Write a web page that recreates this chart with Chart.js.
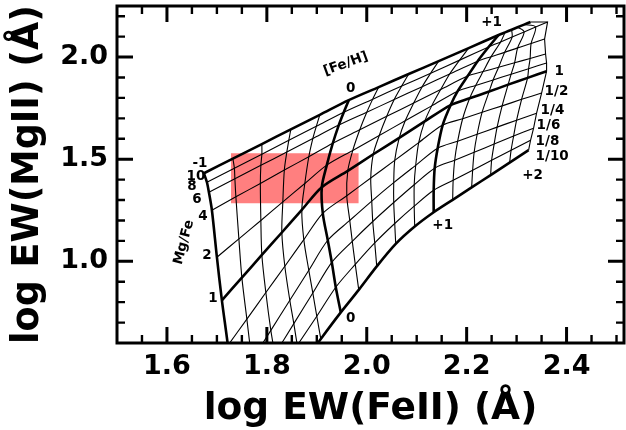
<!DOCTYPE html>
<html>
<head>
<meta charset="utf-8">
<script src="https://cdn.jsdelivr.net/npm/chart.js@4.4.0/dist/chart.umd.min.js"></script>
<style>
html, body { margin: 0; padding: 0; background: #fff; }
</style>
</head>
<body>
<canvas id="myChart" width="626" height="430"></canvas>
<script>
// [Fe/H] steps along every Mg/Fe track
var fehValues = [-1, -0.8, -0.6, -0.4, -0.2, 0, 0.2, 0.4, 0.6, 0.8, 1, 1.2, 1.4, 1.6, 1.8, 2];
var mgfeLabels = ['10', '8', '6', '4', '2', '1', '1/2', '1/4', '1/6', '1/8', '1/10'];

// log EW(FeII) (x) and log EW(MgII) (y) for each Mg/Fe track
var x_10 = [1.674, 1.732, 1.790, 1.848, 1.906, 1.964, 2.024, 2.084, 2.144, 2.204, 2.264, 2.277, 2.290, 2.302, 2.315, 2.328];
var y_10 = [1.431, 1.503, 1.574, 1.646, 1.717, 1.789, 1.853, 1.917, 1.980, 2.044, 2.108, 2.121, 2.134, 2.146, 2.159, 2.172];
var x_8 = [1.680, 1.735, 1.790, 1.844, 1.899, 1.954, 2.012, 2.070, 2.128, 2.186, 2.244, 2.268, 2.291, 2.315, 2.338, 2.362];
var y_8 = [1.387, 1.456, 1.524, 1.593, 1.661, 1.730, 1.794, 1.858, 1.921, 1.985, 2.049, 2.074, 2.098, 2.123, 2.147, 2.172];
var x_6 = [1.684, 1.736, 1.788, 1.840, 1.892, 1.944, 2.000, 2.055, 2.111, 2.166, 2.222, 2.249, 2.276, 2.302, 2.329, 2.356];
var y_6 = [1.338, 1.404, 1.470, 1.535, 1.601, 1.667, 1.730, 1.792, 1.855, 1.917, 1.980, 2.002, 2.023, 2.045, 2.066, 2.088];
var x_4 = [1.690, 1.738, 1.787, 1.835, 1.884, 1.932, 1.986, 2.040, 2.094, 2.148, 2.202, 2.233, 2.264, 2.296, 2.327, 2.358];
var y_4 = [1.250, 1.316, 1.381, 1.447, 1.512, 1.578, 1.644, 1.710, 1.775, 1.841, 1.907, 1.929, 1.950, 1.972, 1.993, 2.015];
var x_2 = [1.700, 1.744, 1.788, 1.832, 1.876, 1.920, 1.972, 2.025, 2.077, 2.130, 2.182, 2.218, 2.253, 2.289, 2.324, 2.360];
var y_2 = [1.020, 1.110, 1.200, 1.291, 1.381, 1.471, 1.543, 1.616, 1.688, 1.761, 1.833, 1.861, 1.888, 1.916, 1.943, 1.971];
var x_1 = [1.710, 1.750, 1.790, 1.830, 1.870, 1.910, 1.962, 2.013, 2.065, 2.116, 2.168, 2.206, 2.245, 2.283, 2.322, 2.360];
var y_1 = [0.809, 0.920, 1.031, 1.141, 1.252, 1.363, 1.443, 1.524, 1.604, 1.685, 1.765, 1.798, 1.831, 1.865, 1.898, 1.931];
var x_1_2 = [1.722, 1.760, 1.798, 1.836, 1.874, 1.912, 1.960, 2.008, 2.056, 2.104, 2.152, 2.192, 2.231, 2.271, 2.310, 2.350];
var y_1_2 = [0.588, 0.717, 0.847, 0.976, 1.106, 1.235, 1.321, 1.408, 1.494, 1.581, 1.667, 1.698, 1.730, 1.761, 1.793, 1.824];
var x_1_4 = [1.732, 1.770, 1.808, 1.846, 1.884, 1.922, 1.966, 2.010, 2.054, 2.098, 2.142, 2.182, 2.221, 2.261, 2.300, 2.340];
var y_1_4 = [0.368, 0.515, 0.662, 0.809, 0.956, 1.103, 1.200, 1.295, 1.385, 1.470, 1.554, 1.588, 1.622, 1.657, 1.691, 1.725];
var x_1_6 = [1.740, 1.778, 1.816, 1.854, 1.892, 1.930, 1.971, 2.012, 2.054, 2.095, 2.136, 2.176, 2.215, 2.255, 2.294, 2.334];
var y_1_6 = [0.245, 0.395, 0.545, 0.695, 0.845, 0.995, 1.098, 1.195, 1.288, 1.375, 1.456, 1.495, 1.534, 1.574, 1.613, 1.652];
var x_1_8 = [1.746, 1.784, 1.823, 1.861, 1.900, 1.938, 1.977, 2.016, 2.056, 2.095, 2.134, 2.173, 2.212, 2.250, 2.289, 2.328];
var y_1_8 = [0.162, 0.304, 0.446, 0.589, 0.731, 0.873, 0.985, 1.090, 1.185, 1.270, 1.348, 1.397, 1.446, 1.495, 1.544, 1.593];
var x_1_10 = [1.750, 1.790, 1.829, 1.869, 1.908, 1.948, 1.984, 2.020, 2.058, 2.096, 2.134, 2.172, 2.210, 2.248, 2.286, 2.324];
var y_1_10 = [0.098, 0.228, 0.359, 0.489, 0.620, 0.750, 0.860, 0.975, 1.085, 1.170, 1.240, 1.301, 1.362, 1.422, 1.483, 1.544];

// observed box
var boxX = [1.728, 1.984];
var boxY = [1.284, 1.529];

// axis ticks
var xMajor = [1.6, 1.8, 2.0, 2.2, 2.4];
var xMinor = [1.55, 1.65, 1.7, 1.75, 1.85, 1.9, 1.95, 2.05, 2.1, 2.15, 2.25, 2.3, 2.35, 2.45, 2.5];
var yMajor = [1.0, 1.5, 2.0];
var yMinor = [0.7, 0.8, 0.9, 1.1, 1.2, 1.3, 1.4, 1.6, 1.7, 1.8, 1.9, 2.1, 2.2];

var gridX = [x_10, x_8, x_6, x_4, x_2, x_1, x_1_2, x_1_4, x_1_6, x_1_8, x_1_10];
var gridY = [y_10, y_8, y_6, y_4, y_2, y_1, y_1_2, y_1_4, y_1_6, y_1_8, y_1_10];

var boldRows = [0, 5, 10];
var boldCols = [0, 5, 10];

var FONT = "'DejaVu Sans', 'Liberation Sans', sans-serif";

function lineSet(points, bold, tension) {
    return {
        data: points,
        showLine: true,
        borderColor: '#000',
        borderWidth: bold ? 2.6 : 1.1,
        pointRadius: 0,
        tension: tension,
        fill: false
    };
}

function buildDatasets() {
    var thin = [];
    var thick = [];
    for (let i = 0; i < gridX.length; i++) {
        let pts = gridX[i].map(function (x, j) { return {x: x, y: gridY[i][j]}; });
        let bold = boldRows.indexOf(i) >= 0;
        (bold ? thick : thin).push(lineSet(pts, bold, 0.3));
    }
    for (let j = 0; j < fehValues.length; j++) {
        let pts = gridX.map(function (row, i) { return {x: row[j], y: gridY[i][j]}; });
        let bold = boldCols.indexOf(j) >= 0;
        // the +2 edge folds back at the top, keep it straight
        (bold ? thick : thin).push(lineSet(pts, bold, j === fehValues.length - 1 ? 0 : 0.3));
    }
    var box = {
        data: [{x: boxX[0], y: boxY[1]}, {x: boxX[1], y: boxY[1]}],
        showLine: true,
        borderWidth: 0,
        borderColor: 'rgba(0,0,0,0)',
        backgroundColor: 'rgba(255, 0, 0, 0.5)',
        pointRadius: 0,
        tension: 0,
        fill: {value: boxY[0]}
    };
    return thin.concat(thick, [box]);
}

// labels on the grid, in data coordinates
var annotations = [
    {t: '[Fe/H]', x: 1.958, y: 1.966, rot: -20},
    {t: '0', x: 1.968, y: 1.848},
    {t: '+1', x: 2.250, y: 2.167},
    {t: '1', x: 2.376, y: 1.931, align: 'left'},
    {t: '1/2', x: 2.356, y: 1.833, align: 'left'},
    {t: '1/4', x: 2.348, y: 1.740, align: 'left'},
    {t: '1/6', x: 2.340, y: 1.667, align: 'left'},
    {t: '1/8', x: 2.338, y: 1.588, align: 'left'},
    {t: '1/10', x: 2.338, y: 1.515, align: 'left'},
    {t: '+2', x: 2.332, y: 1.422},
    {t: '+1', x: 2.152, y: 1.176},
    {t: '0', x: 1.968, y: 0.721},
    {t: '-1', x: 1.666, y: 1.480},
    {t: '10', x: 1.658, y: 1.417},
    {t: '8', x: 1.650, y: 1.368},
    {t: '6', x: 1.660, y: 1.304},
    {t: '4', x: 1.672, y: 1.221},
    {t: '2', x: 1.680, y: 1.029},
    {t: '1', x: 1.692, y: 0.819},
    {t: 'Mg/Fe', x: 1.634, y: 1.093, rot: -75}
];

var labelPlugin = {
    id: 'gridLabels',
    afterDatasetsDraw: function (chart) {
        var ctx = chart.ctx;
        var xs = chart.scales.x, ys = chart.scales.y;
        ctx.save();
        ctx.fillStyle = '#000';
        ctx.font = 'bold 13.5px ' + FONT;
        ctx.textBaseline = 'middle';
        annotations.forEach(function (a) {
            ctx.save();
            ctx.translate(xs.getPixelForValue(a.x), ys.getPixelForValue(a.y));
            if (a.rot) ctx.rotate(a.rot * Math.PI / 180);
            ctx.textAlign = a.align || 'center';
            ctx.fillText(a.t, 0, 0);
            ctx.restore();
        });
        ctx.restore();
    }
};

var framePlugin = {
    id: 'frameTicks',
    afterDraw: function (chart) {
        var ctx = chart.ctx, a = chart.chartArea;
        var xs = chart.scales.x, ys = chart.scales.y;
        ctx.save();
        ctx.strokeStyle = '#000';
        function xt(vals, len, w) {
            ctx.lineWidth = w;
            vals.forEach(function (v) {
                var p = xs.getPixelForValue(v);
                ctx.beginPath();
                ctx.moveTo(p, a.bottom); ctx.lineTo(p, a.bottom - len);
                ctx.moveTo(p, a.top); ctx.lineTo(p, a.top + len);
                ctx.stroke();
            });
        }
        function yt(vals, len, w) {
            ctx.lineWidth = w;
            vals.forEach(function (v) {
                var p = ys.getPixelForValue(v);
                ctx.beginPath();
                ctx.moveTo(a.left, p); ctx.lineTo(a.left + len, p);
                ctx.moveTo(a.right, p); ctx.lineTo(a.right - len, p);
                ctx.stroke();
            });
        }
        xt(xMajor, 16, 3);
        xt(xMinor, 8, 2.4);
        yt(yMajor, 16, 3);
        yt(yMinor, 8, 2.4);
        ctx.lineWidth = 3;
        ctx.strokeRect(a.left, a.top, a.right - a.left, a.bottom - a.top);
        ctx.restore();
    }
};

var ctx = document.getElementById('myChart');
var myChart = new Chart(ctx, {
    type: 'scatter',
    data: {datasets: buildDatasets()},
    options: {
        responsive: false,
        animation: false,
        devicePixelRatio: 1,
        layout: {padding: {left: 0, right: 2, top: 6, bottom: 0}},
        plugins: {legend: {display: false}, tooltip: {enabled: false}},
        scales: {
            x: {
                type: 'linear',
                min: 1.5,
                max: 2.515,
                afterFit: function (s) { s.height = 87; s.paddingLeft = 0; s.paddingRight = 0; },
                afterBuildTicks: function (s) { s.ticks = xMajor.map(function (v) { return {value: v}; }); },
                grid: {display: false, drawTicks: false},
                border: {display: false},
                ticks: {
                    padding: 8,
                    maxRotation: 0,
                    autoSkip: false,
                    color: '#000',
                    font: {family: FONT, size: 27, weight: 'bold'},
                    callback: function (v) { return Number(v).toFixed(1); }
                },
                title: {
                    display: true,
                    text: 'log EW(FeII) (Å)',
                    color: '#000',
                    padding: {top: 0, bottom: 2},
                    font: {family: FONT, size: 37.5, weight: 'bold', lineHeight: 1.0}
                }
            },
            y: {
                type: 'linear',
                min: 0.6,
                max: 2.25,
                afterFit: function (s) { s.width = 117; s.paddingTop = 0; s.paddingBottom = 0; },
                afterBuildTicks: function (s) { s.ticks = yMajor.map(function (v) { return {value: v}; }); },
                grid: {display: false, drawTicks: false},
                border: {display: false},
                ticks: {
                    padding: 9,
                    autoSkip: false,
                    color: '#000',
                    font: {family: FONT, size: 27, weight: 'bold'},
                    callback: function (v) { return Number(v).toFixed(1); }
                },
                title: {
                    display: true,
                    text: 'log EW(MgII) (Å)',
                    color: '#000',
                    padding: {top: 7, bottom: 0},
                    font: {family: FONT, size: 36.5, weight: 'bold', lineHeight: 1.2}
                }
            }
        }
    },
    plugins: [labelPlugin, framePlugin]
});
</script>
</body>
</html>
